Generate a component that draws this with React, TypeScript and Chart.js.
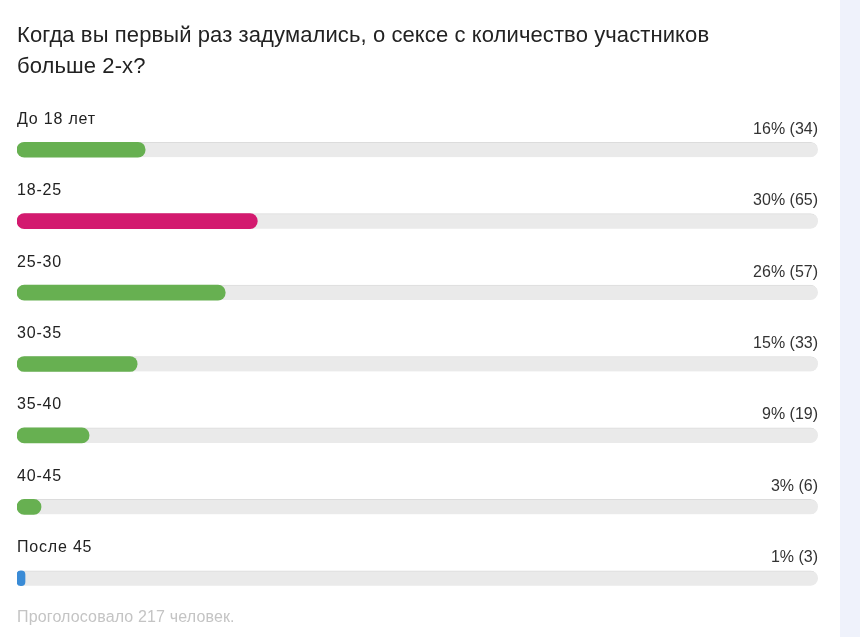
import { useEffect, useRef } from "react";
import Chart from "chart.js/auto";

const titleLines = [
  "Когда вы первый раз задумались, о сексе с количество участников",
  "больше 2-х?",
];
const categories = ["До 18 лет", "18-25", "25-30", "30-35", "35-40", "40-45", "После 45"];
const percents = [16, 30, 26, 15, 9, 3, 1];
const votes = [34, 65, 57, 33, 19, 6, 3];
const barColors = ["#67b051", "#d31a6f", "#67b051", "#67b051", "#67b051", "#67b051", "#3a8bd6"];
const trackMax = [100, 100, 100, 100, 100, 100, 100];
const footerText = "Проголосовало 217 человек.";

const FONT = "Arial, 'Liberation Sans', sans-serif";

const pollTextPlugin = {
  id: "pollText",
  beforeDraw(chart: any) {
    const { ctx, width, height } = chart;
    ctx.save();
    ctx.fillStyle = "#ffffff";
    ctx.fillRect(0, 0, width, height);
    // light side strip on the right
    ctx.fillStyle = "#eff2fb";
    ctx.fillRect(840, 0, width - 840, height);
    ctx.restore();
  },
  afterDatasetsDraw(chart: any) {
    const { ctx, chartArea } = chart;
    const yScale = chart.scales.y;
    ctx.save();
    ctx.textBaseline = "alphabetic";

    // title
    ctx.fillStyle = "#222222";
    ctx.font = `22px ${FONT}`;
    ctx.textAlign = "left";
    ctx.letterSpacing = "0.1px";
    titleLines.forEach((line, i) => {
      ctx.fillText(line, chartArea.left, 42 + i * 31);
    });

    categories.forEach((cat, i) => {
      const y = yScale.getPixelForValue(i);
      ctx.fillStyle = "#222222";
      ctx.font = `16px ${FONT}`;
      ctx.letterSpacing = "0.8px";
      ctx.textAlign = "left";
      ctx.fillText(cat, chartArea.left, y - 26);

      ctx.fillStyle = "#333333";
      ctx.font = `16px ${FONT}`;
      ctx.letterSpacing = "0px";
      ctx.textAlign = "right";
      ctx.fillText(`${percents[i]}% (${votes[i]})`, chartArea.right, y - 16);
    });

    // footer
    ctx.fillStyle = "#c4c4c4";
    ctx.font = `16px ${FONT}`;
    ctx.letterSpacing = "0.15px";
    ctx.textAlign = "left";
    ctx.fillText(footerText, chartArea.left, 622);
    ctx.restore();
  },
};

export default function App() {
  const chartRef = useRef<HTMLCanvasElement>(null);
  const chartInstanceRef = useRef<Chart | null>(null);

  useEffect(() => {
    document.body.style.margin = "0";
    if (!chartRef.current) return;

    if (chartInstanceRef.current) {
      chartInstanceRef.current.destroy();
    }

    const ctx = chartRef.current.getContext("2d");
    if (!ctx) return;

    chartInstanceRef.current = new Chart(ctx, {
      type: "bar",
      data: {
        labels: categories,
        datasets: [
          {
            label: "share",
            data: percents,
            backgroundColor: barColors,
            borderWidth: 0,
            borderRadius: 8,
            borderSkipped: false,
            barThickness: 15,
            grouped: false,
            order: 1,
          },
          {
            label: "track",
            data: trackMax,
            backgroundColor: "#eaeaea",
            borderColor: "#dcdcdc",
            borderWidth: { top: 1, left: 0, right: 0, bottom: 0 },
            borderRadius: 8,
            borderSkipped: false,
            barThickness: 15,
            grouped: false,
            order: 2,
          },
        ],
      },
      options: {
        indexAxis: "y",
        responsive: true,
        maintainAspectRatio: false,
        animation: false,
        layout: {
          padding: { top: 114, bottom: 23, left: 17, right: 42 },
        },
        scales: {
          x: { display: false, min: 0, max: 100 },
          y: { display: false },
        },
        plugins: {
          legend: { display: false },
          tooltip: { enabled: false },
        },
      },
      plugins: [pollTextPlugin],
    });

    return () => {
      if (chartInstanceRef.current) {
        chartInstanceRef.current.destroy();
        chartInstanceRef.current = null;
      }
    };
  }, []);

  return (
    <div style={{ position: "relative", width: 860, height: 637 }}>
      <canvas ref={chartRef} />
    </div>
  );
}
